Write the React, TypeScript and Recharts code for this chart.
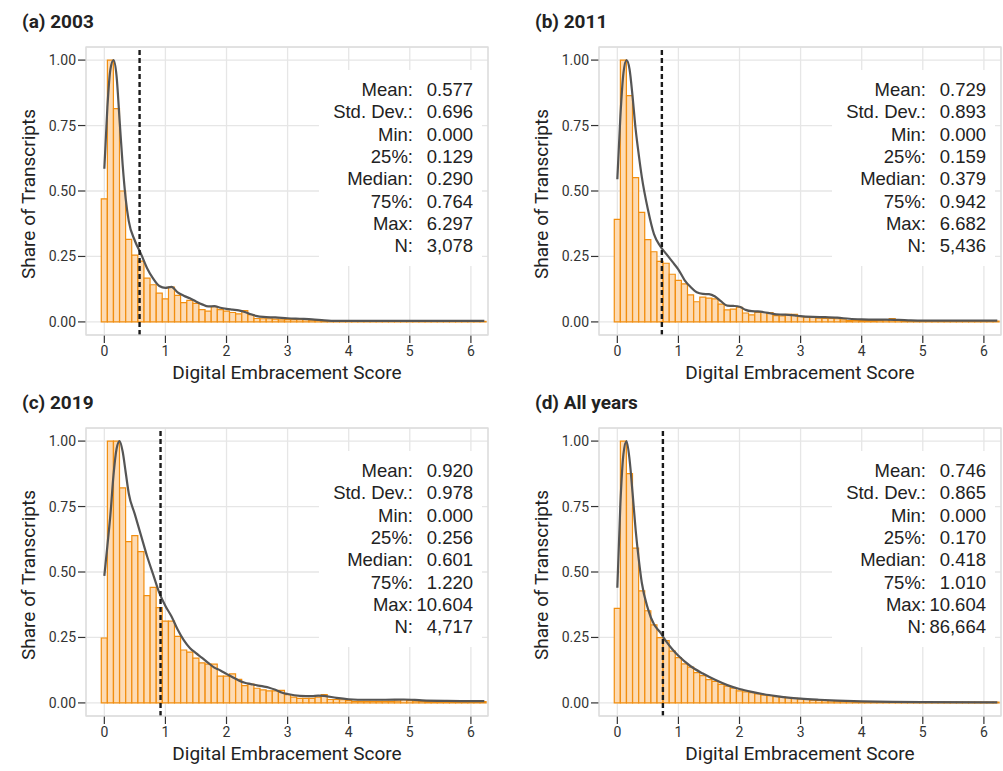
import React from 'react'
import { ComposedChart, Bar, Line, XAxis, YAxis, CartesianGrid, ReferenceLine } from 'recharts'

// bin centres (bin width 0.1)
const BIN_X = [
  0, 0.1, 0.2, 0.3, 0.4, 0.5, 0.6, 0.7, 0.8, 0.9,
  1, 1.1, 1.2, 1.3, 1.4, 1.5, 1.6, 1.7, 1.8, 1.9,
  2, 2.1, 2.2, 2.3, 2.4, 2.5, 2.6, 2.7, 2.8, 2.9,
  3, 3.1, 3.2, 3.3, 3.4, 3.5, 3.6, 3.7, 3.8, 3.9,
  4, 4.1, 4.2, 4.3, 4.4, 4.5, 4.6, 4.7, 4.8, 4.9,
  5, 5.1, 5.2, 5.3, 5.4, 5.5, 5.6, 5.7, 5.8, 5.9,
  6, 6.1, 6.2,
]

const BARS_2003 = [
  0.47, 1.0, 0.815, 0.5, 0.315, 0.255, 0.232, 0.167, 0.142, 0.11,
  0.088, 0.133, 0.101, 0.074, 0.082, 0.071, 0.047, 0.041, 0.058, 0.047,
  0.041, 0.036, 0.031, 0.043, 0.028, 0.013, 0.012, 0.012, 0.011, 0.008,
  0.009, 0.009, 0.009, 0.009, 0.007, 0.006, 0.002, 0.002, 0.002, 0.002,
  0.002, 0.002, 0.002, 0.002, 0.002, 0.002, 0.002, 0.002, 0.002, 0.002,
  0.002, 0.002, 0.002, 0.002, 0.002, 0.002, 0.002, 0.002, 0.002, 0.002,
  0.002, 0.002, 0.002,
]
const BARS_2011 = [
  0.392, 1.0, 0.864, 0.551, 0.418, 0.314, 0.268, 0.231, 0.224, 0.182,
  0.159, 0.145, 0.103, 0.077, 0.095, 0.091, 0.088, 0.068, 0.046, 0.049,
  0.056, 0.034, 0.027, 0.036, 0.036, 0.036, 0.024, 0.023, 0.029, 0.029,
  0.02, 0.018, 0.018, 0.014, 0.013, 0.013, 0.012, 0.008, 0.005, 0.006,
  0.005, 0.005, 0.005, 0.006, 0.008, 0.013, 0.006, 0.004, 0.003, 0.003,
  0.003, 0.003, 0.003, 0.003, 0.003, 0.003, 0.003, 0.003, 0.003, 0.003,
  0.003, 0.003, 0.003,
]
const BARS_2019 = [
  0.248, 1.0, 1.0, 0.821, 0.616, 0.639, 0.578, 0.41, 0.441, 0.364,
  0.312, 0.312, 0.254, 0.202, 0.194, 0.171, 0.153, 0.148, 0.148, 0.102,
  0.102, 0.111, 0.09, 0.066, 0.072, 0.056, 0.05, 0.046, 0.046, 0.048,
  0.032, 0.022, 0.017, 0.017, 0.017, 0.022, 0.032, 0.013, 0.013, 0.012,
  0.009, 0.006, 0.006, 0.006, 0.006, 0.006, 0.006, 0.006, 0.007, 0.012,
  0.009, 0.007, 0.006, 0.005, 0.005, 0.005, 0.005, 0.005, 0.005, 0.005,
  0.005, 0.005, 0.005,
]
const BARS_ALL = [
  0.361, 1.0, 0.876, 0.591, 0.428, 0.352, 0.298, 0.249, 0.238, 0.198,
  0.173, 0.149, 0.137, 0.116, 0.104, 0.089, 0.082, 0.071, 0.064, 0.056,
  0.046, 0.042, 0.039, 0.034, 0.03, 0.028, 0.024, 0.022, 0.02, 0.017,
  0.015, 0.013, 0.011, 0.01, 0.009, 0.008, 0.007, 0.006, 0.006, 0.005,
  0.005, 0.004, 0.004, 0.004, 0.004, 0.004, 0.004, 0.004, 0.004, 0.004,
  0.003, 0.003, 0.003, 0.003, 0.003, 0.003, 0.003, 0.003, 0.003, 0.003,
  0.003, 0.003, 0.003,
]

// density curves (x, y)
const DENS_X_2003 = [0, 0.05, 0.1, 0.15, 0.2, 0.25, 0.3, 0.35, 0.4, 0.5, 0.6, 0.7, 0.8, 0.9, 1, 1.1, 1.2, 1.3, 1.4, 1.5, 1.6, 1.7, 1.8, 1.9, 2, 2.1, 2.2, 2.3, 2.4, 2.5, 2.6, 2.8, 3, 3.2, 3.4, 3.6, 3.8, 4, 5, 6.22]
const DENS_Y_2003 = [0.585, 0.82, 0.965, 1.0, 0.94, 0.77, 0.6, 0.47, 0.385, 0.31, 0.26, 0.205, 0.165, 0.137, 0.13, 0.134, 0.113, 0.1, 0.09, 0.078, 0.067, 0.059, 0.06, 0.054, 0.05, 0.047, 0.044, 0.038, 0.029, 0.022, 0.019, 0.017, 0.014, 0.012, 0.01, 0.006, 0.004, 0.004, 0.004, 0.004]

const DENS_X_2011 = [0, 0.05, 0.1, 0.15, 0.2, 0.25, 0.3, 0.35, 0.4, 0.5, 0.6, 0.7, 0.8, 0.9, 1, 1.1, 1.2, 1.3, 1.4, 1.5, 1.6, 1.7, 1.8, 1.9, 2, 2.1, 2.2, 2.3, 2.4, 2.5, 2.6, 2.7, 2.8, 2.9, 3, 3.2, 3.4, 3.6, 3.8, 4, 4.2, 4.4, 4.6, 4.8, 5, 6.22]
const DENS_Y_2011 = [0.545, 0.785, 0.95, 1.0, 0.965, 0.86, 0.735, 0.64, 0.555, 0.43, 0.335, 0.29, 0.26, 0.23, 0.2, 0.16, 0.133, 0.113, 0.107, 0.106, 0.097, 0.078, 0.062, 0.061, 0.058, 0.046, 0.041, 0.04, 0.037, 0.033, 0.029, 0.028, 0.027, 0.025, 0.022, 0.019, 0.018, 0.016, 0.012, 0.01, 0.009, 0.009, 0.008, 0.006, 0.005, 0.005]

const DENS_X_2019 = [0, 0.05, 0.1, 0.15, 0.2, 0.25, 0.3, 0.35, 0.4, 0.5, 0.6, 0.7, 0.8, 0.9, 1, 1.1, 1.2, 1.3, 1.4, 1.5, 1.6, 1.7, 1.8, 1.9, 2, 2.1, 2.2, 2.3, 2.4, 2.5, 2.6, 2.7, 2.8, 2.9, 3, 3.2, 3.4, 3.5, 3.6, 3.8, 4, 4.3, 4.6, 4.9, 5.2, 5.6, 6, 6.22]
const DENS_Y_2019 = [0.485, 0.6, 0.72, 0.87, 0.97, 1.0, 0.96, 0.88, 0.8, 0.72, 0.64, 0.56, 0.49, 0.42, 0.37, 0.33, 0.28, 0.24, 0.21, 0.19, 0.172, 0.153, 0.135, 0.124, 0.111, 0.098, 0.086, 0.077, 0.072, 0.067, 0.063, 0.058, 0.05, 0.04, 0.034, 0.027, 0.026, 0.028, 0.027, 0.019, 0.014, 0.012, 0.012, 0.013, 0.01, 0.008, 0.007, 0.007]

const DENS_X_ALL = [0, 0.05, 0.1, 0.15, 0.2, 0.25, 0.3, 0.35, 0.4, 0.5, 0.6, 0.7, 0.8, 0.9, 1, 1.2, 1.4, 1.6, 1.8, 2, 2.2, 2.4, 2.6, 2.8, 3, 3.3, 3.6, 4, 4.5, 5, 6.22]
const DENS_Y_ALL = [0.44, 0.76, 0.95, 1.0, 0.93, 0.8, 0.66, 0.55, 0.46, 0.36, 0.3, 0.27, 0.235, 0.205, 0.18, 0.14, 0.112, 0.088, 0.068, 0.053, 0.042, 0.033, 0.026, 0.02, 0.016, 0.012, 0.009, 0.006, 0.004, 0.003, 0.002]

const STAT_LABELS = ['Mean:', 'Std. Dev.:', 'Min:', '25%:', 'Median:', '75%:', 'Max:', 'N:']
const STATS_2003 = ['0.577', '0.696', '0.000', '0.129', '0.290', '0.764', '6.297', '3,078']
const STATS_2011 = ['0.729', '0.893', '0.000', '0.159', '0.379', '0.942', '6.682', '5,436']
const STATS_2019 = ['0.920', '0.978', '0.000', '0.256', '0.601', '1.220', '10.604', '4,717']
const STATS_ALL = ['0.746', '0.865', '0.000', '0.170', '0.418', '1.010', '10.604', '86,664']

const X_TICKS = [0, 1, 2, 3, 4, 5, 6]
const Y_TICKS = [0, 0.25, 0.5, 0.75, 1]

const PANELS = [
  { title: '(a) 2003', bars: BARS_2003, dx: DENS_X_2003, dy: DENS_Y_2003, stats: STATS_2003, left: 0, top: 0 },
  { title: '(b) 2011', bars: BARS_2011, dx: DENS_X_2011, dy: DENS_Y_2011, stats: STATS_2011, left: 513, top: 0 },
  { title: '(c) 2019', bars: BARS_2019, dx: DENS_X_2019, dy: DENS_Y_2019, stats: STATS_2019, left: 0, top: 381 },
  { title: '(d) All years', bars: BARS_ALL, dx: DENS_X_ALL, dy: DENS_Y_ALL, stats: STATS_ALL, left: 513, top: 381 },
]

const W = 500
const H = 381
const PL = 86
const PT = 47
const PW = 402
const PH = 288
const X_DOMAIN = [-0.3, 6.28]
const SANS = 'Roboto, "Noto Sans", sans-serif'
const ARIAL = '"Liberation Sans", Arial, sans-serif'

function Panel({ p }: { p: typeof PANELS[number] }) {
  const rows = BIN_X.map((x, i) => ({ x, share: p.bars[i] }))
  const curve = p.dx.map((x, i) => ({ x, dens: p.dy[i] }))
  const mean = parseFloat(p.stats[0])
  const tickStyle = { fontSize: 14, fill: '#333', fontFamily: SANS }
  return (
    <div style={{ position: 'absolute', left: p.left, top: p.top, width: W, height: H }}>
      <ComposedChart width={W} height={H} data={rows} margin={{ top: PT, right: W - PL - PW, bottom: 0, left: 0 }}
        barCategoryGap={0} barGap={0}>
        <CartesianGrid stroke="#e6e6e6" strokeWidth={1.3} />
        <XAxis type="number" dataKey="x" domain={X_DOMAIN} allowDataOverflow ticks={X_TICKS}
          height={H - PT - PH} axisLine={false} tickSize={8} tickMargin={3}
          tickLine={{ stroke: '#333', strokeWidth: 1.2 }} tick={tickStyle} />
        {/* separate hidden axis for the density curve so the bar width comes from the bins only */}
        <XAxis xAxisId="dens" type="number" dataKey="x" domain={X_DOMAIN} allowDataOverflow hide />
        <YAxis type="number" domain={[-0.05, 1.05]} allowDataOverflow ticks={Y_TICKS} width={PL}
          axisLine={false} tickSize={8} tickMargin={2} tickFormatter={(v: number) => v.toFixed(2)}
          tickLine={{ stroke: '#333', strokeWidth: 1.2 }} tick={tickStyle} />
        <Bar dataKey="share" fill="#fddbb4" stroke="#f28e0f" strokeWidth={1.2} isAnimationActive={false} />
        <Line xAxisId="dens" data={curve} dataKey="dens" type="monotone" stroke="#555" strokeWidth={2.2} dot={false}
          activeDot={false} isAnimationActive={false} />
        <ReferenceLine x={mean} stroke="#1a1a1a" strokeWidth={2.4} strokeDasharray="5 3" />
      </ComposedChart>
      <svg width={W} height={H + 20} style={{ position: 'absolute', left: 0, top: 0, pointerEvents: 'none', overflow: 'visible' }}>
        <rect x={PL + PW - 169} y={PT + 23} width={163} height={196} fill="#fff" />
        <rect x={PL} y={PT} width={PW} height={PH} fill="none" stroke="#dcdcdc" strokeWidth={1.3} />
        <text x={22} y={28} fontFamily={SANS} fontWeight={700} fontSize={19} fill="#222">{p.title}</text>
        <text transform={`translate(35, ${PT + 147}) rotate(-90)`} textAnchor="middle"
          fontFamily={SANS} fontSize={19} fill="#222">Share of Transcripts</text>
        <text x={PL + PW / 2} y={PT + PH + 44} textAnchor="middle" fontFamily={SANS} fontSize={19}
          fill="#222">Digital Embracement Score</text>
        {STAT_LABELS.map((lab, i) => (
          <g key={lab} fontFamily={ARIAL} fontSize={18.5} fill="#222">
            <text x={PL + PW - 75} y={PT + 49 + i * 22.35} textAnchor="end">{lab}</text>
            <text x={PL + PW - 15} y={PT + 49 + i * 22.35} textAnchor="end">{p.stats[i]}</text>
          </g>
        ))}
      </svg>
    </div>
  )
}

export default function App() {
  return (
    <div style={{ position: 'absolute', left: 0, top: 0, width: 1003, height: 771, background: '#fff' }}>
      {PANELS.map(p => <Panel key={p.title} p={p} />)}
    </div>
  )
}
